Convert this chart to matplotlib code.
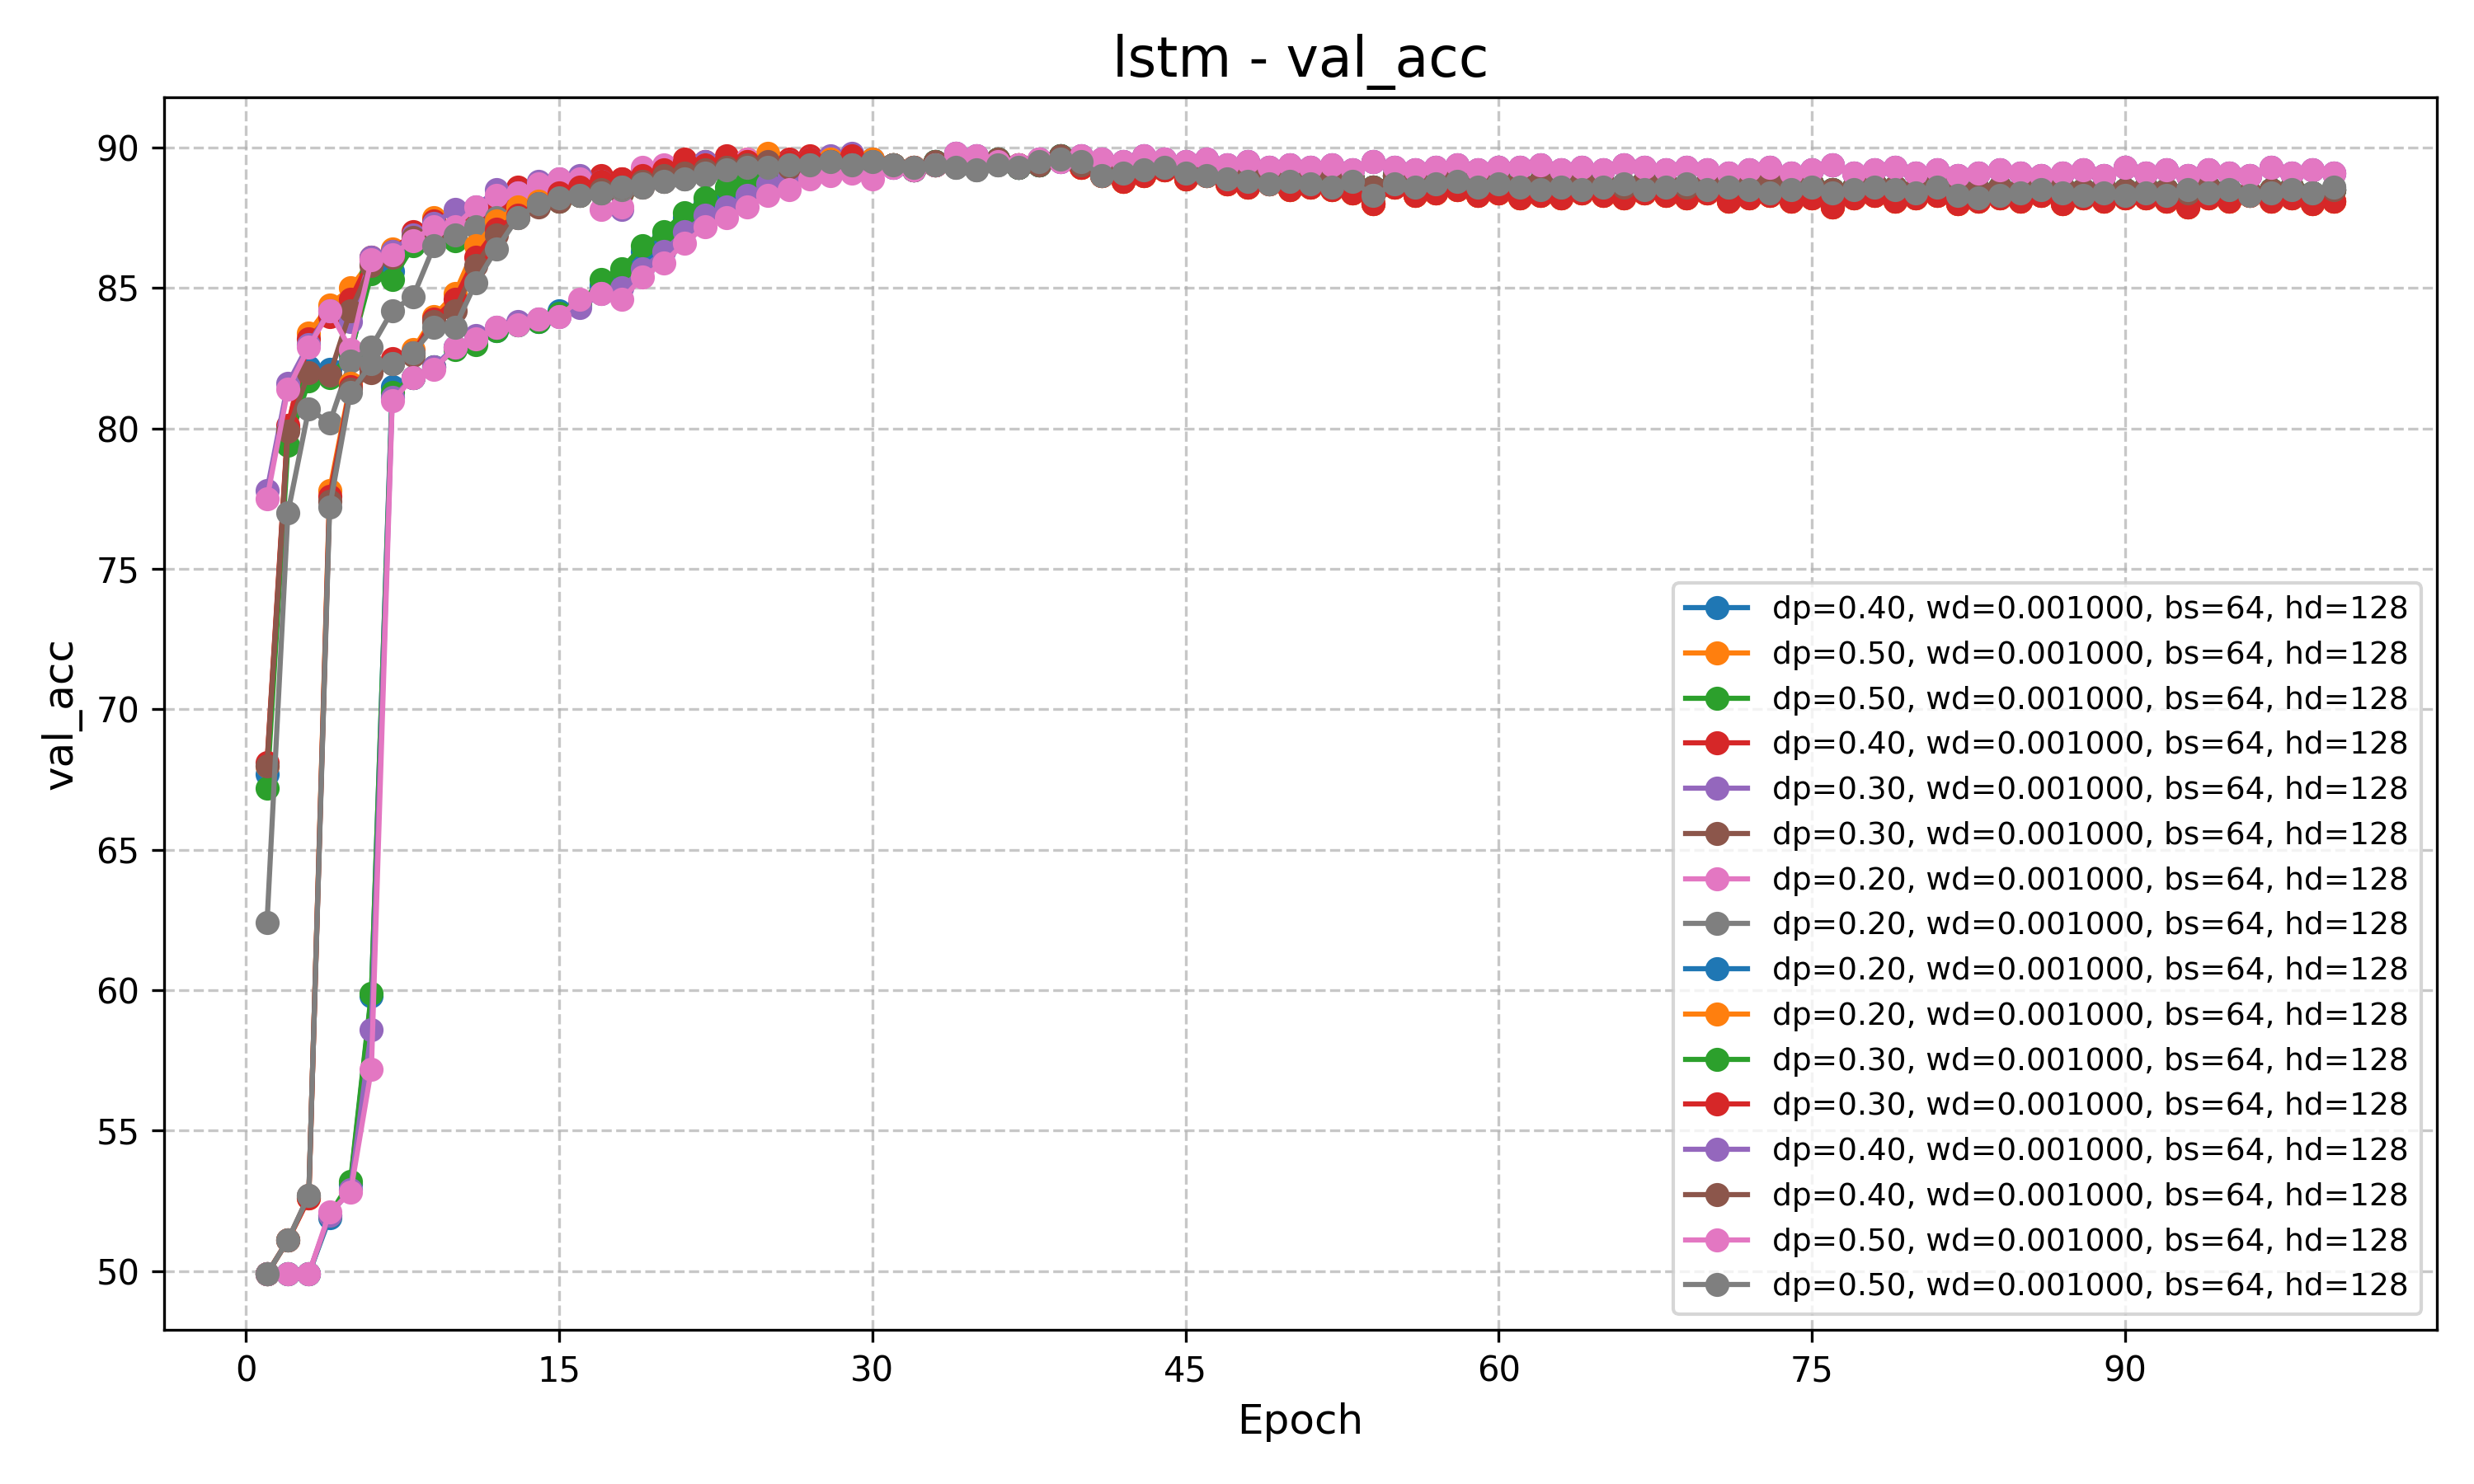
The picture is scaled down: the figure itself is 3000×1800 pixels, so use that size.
import matplotlib
matplotlib.use('Agg')
import matplotlib.pyplot as plt

# early epochs 1-30 per run
early = [
    [67.7, 80.0, 82.2, 82.1, 82.6, 85.9, 85.6, 86.6, 87.0, 86.9, 87.4, 87.8, 88.2, 88.3, 88.5, 88.6, 88.8, 88.6, 88.9, 89.0, 89.2, 89.3, 89.3, 89.4, 89.5, 89.4, 89.5, 89.6, 89.5, 89.6],
    [68.0, 80.0, 83.4, 84.4, 85.0, 86.0, 86.4, 86.8, 87.5, 87.2, 87.5, 88.0, 88.3, 88.5, 88.7, 88.8, 88.9, 88.7, 89.0, 89.2, 89.3, 89.4, 89.5, 89.6, 89.8, 89.5, 89.6, 89.5, 89.6, 89.5],
    [67.2, 79.4, 81.7, 81.8, 82.7, 85.5, 85.3, 86.5, 87.1, 86.7, 87.3, 87.5, 88.0, 88.1, 88.1, 88.3, 88.5, 88.4, 88.8, 88.9, 89.0, 89.2, 89.1, 89.3, 89.4, 89.3, 89.5, 89.4, 89.6, 89.5],
    [68.1, 80.1, 83.2, 84.0, 84.6, 86.1, 86.3, 87.0, 87.4, 87.1, 87.4, 88.0, 88.6, 88.3, 88.6, 88.8, 89.0, 88.9, 89.2, 89.3, 89.6, 89.5, 89.7, 89.4, 89.5, 89.6, 89.7, 89.5, 89.6, 89.3],
    [77.8, 81.6, 83.0, 84.2, 83.8, 86.1, 86.3, 86.9, 87.3, 87.8, 87.9, 88.5, 88.4, 88.8, 88.9, 89.0, 88.8, 87.8, 89.1, 89.2, 89.4, 89.5, 89.4, 89.5, 89.6, 89.5, 89.6, 89.7, 89.8, 89.6],
    [68.0, 79.9, 82.0, 81.9, 84.2, 85.8, 86.1, 86.8, 86.8, 87.0, 87.2, 87.2, 87.6, 88.0, 88.1, 88.4, 88.5, 88.4, 88.6, 88.8, 89.0, 89.1, 89.2, 89.3, 89.4, 89.3, 89.4, 89.5, 89.4, 89.5],
    [77.5, 81.4, 82.9, 84.2, 82.8, 86.0, 86.2, 86.7, 87.2, 87.2, 87.9, 88.3, 88.4, 88.7, 88.9, 88.9, 87.8, 87.9, 89.3, 89.4, 89.3, 89.4, 89.5, 89.6, 89.5, 89.4, 89.5, 89.6, 89.5, 89.4],
    [62.4, 77.0, 80.7, 80.2, 82.4, 82.9, 84.2, 84.7, 86.5, 86.9, 87.2, 87.5, 87.8, 88.0, 88.2, 88.3, 88.4, 88.5, 88.6, 88.8, 88.9, 89.0, 89.1, 89.2, 89.2, 89.3, 89.3, 89.4, 89.4, 89.3],
    [49.9, 49.9, 49.9, 51.9, 53.1, 59.8, 81.5, 81.8, 82.2, 82.9, 83.2, 83.5, 83.7, 83.8, 84.2, 84.5, 85.1, 85.5, 86.3, 86.8, 87.5, 88.0, 88.4, 88.7, 89.0, 89.2, 89.3, 89.4, 89.5, 89.4],
    [49.9, 51.1, 52.6, 77.8, 81.6, 82.1, 82.4, 82.8, 84.0, 84.8, 86.5, 87.4, 87.9, 88.1, 88.3, 88.5, 88.6, 88.7, 88.9, 89.1, 89.2, 89.3, 89.4, 89.5, 89.7, 89.4, 89.5, 89.6, 89.5, 89.6],
    [49.9, 49.9, 49.9, 52.0, 53.2, 59.9, 81.3, 81.8, 82.2, 82.8, 83.0, 83.5, 83.7, 83.8, 84.1, 84.4, 85.3, 85.7, 86.5, 87.0, 87.7, 88.2, 88.6, 88.8, 89.0, 89.2, 89.3, 89.4, 89.5, 89.4],
    [49.9, 51.1, 52.6, 77.6, 81.5, 82.1, 82.5, 82.7, 83.9, 84.6, 86.1, 87.1, 87.6, 88.0, 88.4, 88.6, 88.8, 88.9, 89.0, 89.2, 89.5, 89.4, 89.6, 89.5, 89.4, 89.5, 89.6, 89.5, 89.7, 89.4],
    [49.9, 49.9, 49.9, 52.0, 52.9, 58.6, 81.1, 81.8, 82.2, 82.9, 83.3, 83.6, 83.8, 83.9, 84.0, 84.3, 84.8, 85.0, 85.7, 86.3, 87.0, 87.6, 87.9, 88.3, 88.7, 89.0, 89.2, 89.3, 89.4, 89.3],
    [49.9, 51.1, 52.7, 77.4, 81.4, 82.0, 82.3, 82.6, 83.8, 84.2, 85.8, 86.9, 87.5, 87.9, 88.1, 88.3, 88.5, 88.6, 88.8, 89.0, 89.1, 89.2, 89.3, 89.4, 89.5, 89.3, 89.4, 89.5, 89.4, 89.5],
    [49.9, 49.9, 49.9, 52.1, 52.8, 57.2, 81.0, 81.8, 82.1, 82.9, 83.2, 83.6, 83.7, 83.9, 84.0, 84.6, 84.8, 84.6, 85.4, 85.9, 86.6, 87.2, 87.5, 87.9, 88.3, 88.5, 88.9, 89.0, 89.1, 88.9],
    [49.9, 51.1, 52.7, 77.2, 81.3, 82.3, 82.3, 82.7, 83.6, 83.6, 85.2, 86.4, 87.5, 88.0, 88.2, 88.3, 88.4, 88.6, 88.7, 88.8, 88.9, 89.1, 89.2, 89.3, 89.3, 89.4, 89.4, 89.5, 89.4, 89.5],
]

# epochs 31-100
tail_high = [89.3, 89.2, 89.4, 89.8, 89.7, 89.5, 89.4, 89.6, 89.5, 89.7,
             89.6, 89.5, 89.7, 89.6, 89.5, 89.6, 89.4, 89.5, 89.3, 89.4,
             89.3, 89.4, 89.2, 89.5, 89.3, 89.2, 89.3, 89.4, 89.2, 89.3,
             89.3, 89.4, 89.2, 89.3, 89.2, 89.4, 89.3, 89.2, 89.3, 89.2,
             89.1, 89.2, 89.3, 89.1, 89.2, 89.4, 89.1, 89.2, 89.3, 89.1,
             89.2, 89.0, 89.1, 89.2, 89.1, 89.0, 89.1, 89.2, 89.0, 89.3,
             89.1, 89.2, 89.0, 89.2, 89.1, 89.0, 89.3, 89.1, 89.2, 89.1]
tail_mid = [89.4, 89.3, 89.4, 89.3, 89.2, 89.4, 89.3, 89.5, 89.6, 89.5,
            89.0, 89.1, 89.2, 89.3, 89.1, 89.0, 88.9, 88.8, 88.7, 88.8,
            88.7, 88.6, 88.8, 88.3, 88.7, 88.6, 88.7, 88.8, 88.6, 88.7,
            88.6, 88.5, 88.6, 88.5, 88.6, 88.7, 88.5, 88.6, 88.7, 88.5,
            88.6, 88.5, 88.4, 88.5, 88.6, 88.4, 88.5, 88.6, 88.5, 88.4,
            88.6, 88.3, 88.2, 88.3, 88.4, 88.5, 88.4, 88.3, 88.4, 88.3,
            88.4, 88.3, 88.5, 88.4, 88.5, 88.3, 88.4, 88.5, 88.4, 88.6]
tail_midlow = [89.4, 89.2, 89.5, 89.6, 89.4, 89.6, 89.3, 89.4, 89.7, 89.4,
               89.3, 89.2, 89.4, 89.3, 89.2, 89.4, 89.1, 89.2, 89.0, 89.1,
               89.0, 89.1, 88.9, 88.6, 89.0, 88.8, 88.9, 89.0, 88.8, 88.9,
               88.7, 88.8, 88.6, 88.8, 88.7, 88.6, 88.8, 88.7, 88.6, 88.7,
               88.6, 88.7, 88.8, 88.6, 88.7, 88.5, 88.6, 88.7, 88.6, 88.5,
               88.7, 88.6, 88.5, 88.6, 88.5, 88.7, 88.6, 88.5, 88.6, 88.5,
               88.6, 88.5, 88.4, 88.6, 88.5, 88.4, 88.5, 88.6, 88.4, 88.5]
tail_low = [89.4, 89.3, 89.4, 89.6, 89.3, 89.5, 89.4, 89.5, 89.6, 89.3,
            89.0, 88.8, 89.0, 89.2, 88.9, 89.0, 88.7, 88.6, 88.7, 88.5,
            88.6, 88.5, 88.4, 88.0, 88.6, 88.3, 88.4, 88.5, 88.3, 88.4,
            88.2, 88.3, 88.2, 88.4, 88.3, 88.2, 88.4, 88.3, 88.2, 88.4,
            88.1, 88.2, 88.3, 88.1, 88.2, 87.9, 88.2, 88.3, 88.1, 88.2,
            88.3, 88.0, 88.1, 88.2, 88.1, 88.3, 88.0, 88.2, 88.1, 88.2,
            88.2, 88.1, 87.9, 88.2, 88.1, 88.3, 88.1, 88.2, 88.0, 88.1]

tails = [tail_midlow, tail_low, tail_midlow, tail_low, tail_high, tail_midlow, tail_high, tail_mid,
         tail_midlow, tail_low, tail_midlow, tail_low, tail_high, tail_midlow, tail_high, tail_mid]

dropouts = [0.40, 0.50, 0.50, 0.40, 0.30, 0.30, 0.20, 0.20,
            0.20, 0.20, 0.30, 0.30, 0.40, 0.40, 0.50, 0.50]

COLORS = ['#1f77b4', '#ff7f0e', '#2ca02c', '#d62728',
          '#9467bd', '#8c564b', '#e377c2', '#7f7f7f']

fig, ax = plt.subplots(figsize=(10, 6))

for i, dp in enumerate(dropouts):
    vals = early[i] + tails[i]
    epochs = list(range(1, len(vals) + 1))
    ax.plot(epochs, vals, marker='o', markersize=6, linewidth=1.5,
            color=COLORS[i % len(COLORS)],
            label=f'dp={dp:.2f}, wd=0.001000, bs=64, hd=128')

ax.set_title('lstm - val_acc', fontsize=16)
ax.set_xlabel('Epoch', fontsize=12)
ax.set_ylabel('val_acc', fontsize=12)
ax.set_xticks(range(0, 91, 15))
ax.grid(True, linestyle='--', alpha=0.7)
ax.legend(loc='lower right', fontsize=9)

plt.tight_layout()
plt.savefig('out.png', dpi=300)
